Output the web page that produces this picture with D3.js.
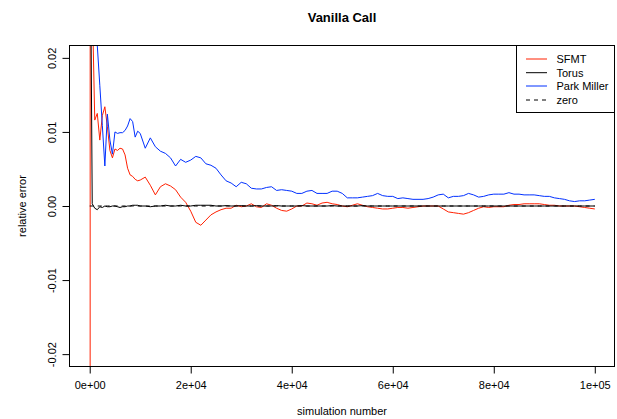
<!DOCTYPE html>
<html>
<head>
<meta charset="utf-8">
<script src="https://cdn.jsdelivr.net/npm/d3@7"></script>
<style>
  html, body { margin: 0; padding: 0; background: #fff; }
  svg { display: block; }
  text { font-family: "Liberation Sans", Arial, Helvetica, sans-serif; fill: #000; }
</style>
</head>
<body>
<svg id="chart" width="617" height="419"></svg>
<script>
const chartTitle = "Vanilla Call";
const xLabel = "simulation number";
const yLabel = "relative error";

const simulations = [1, 100, 500, 1000, 1500, 2000, 2500, 3000, 3500, 4000, 4500, 5000, 5500, 6000, 6500, 7000, 7500, 8000, 8500, 9000, 9500, 10000,
  11000, 12000, 13000, 14000, 15000, 16000, 17000, 18000, 19000, 20000,
  21000, 22000, 23000, 24000, 25000, 26000, 27000, 28000, 29000, 30000,
  31000, 32000, 33000, 34000, 35000, 36000, 37000, 38000, 39000, 40000,
  41000, 42000, 43000, 44000, 45000, 46000, 47000, 48000, 49000, 50000,
  51000, 52000, 53000, 54000, 55000, 56000, 57000, 58000, 59000, 60000,
  61000, 62000, 63000, 64000, 65000, 66000, 67000, 68000, 69000, 70000,
  71000, 72000, 73000, 74000, 75000, 76000, 77000, 78000, 79000, 80000,
  81000, 82000, 83000, 84000, 85000, 86000, 87000, 88000, 89000, 90000,
  91000, 92000, 93000, 94000, 95000, 96000, 97000, 98000, 99000, 100000];

const sfmt = [-0.5, 0.05, 0.028, 0.0116, 0.0125, 0.0089, 0.0122, 0.0134, 0.0107, 0.0075, 0.0065, 0.0077, 0.0075, 0.0078, 0.0077, 0.0069, 0.0051, 0.0042, 0.0040, 0.0036, 0.0034, 0.0035,
  0.0039, 0.0028, 0.0015, 0.0026, 0.0030, 0.0027, 0.0022, 0.0012, 0.0005, -0.0007,
  -0.0022, -0.0026, -0.0019, -0.0012, -0.0008, -0.0005, -0.0003, -0.0003, 0.0001, -0.0001,
  0.0000, 0.0003, -0.0001, -0.0002, 0.0003, 0.0001, -0.0003, -0.0006, -0.0007, -0.0004,
  0.0000, 0.0000, 0.0004, 0.0003, 0.0001, 0.0004, 0.0005, 0.0003, 0.0002, 0.0000,
  -0.0001, 0.0001, 0.0003, 0.0001, -0.0001, -0.0002, -0.0003, -0.0004, -0.0004, -0.0003,
  -0.0002, -0.0002, -0.0003, -0.0002, -0.0001, 0.0000, 0.0000, 0.0000, 0.0000, -0.0004,
  -0.0008, -0.0009, -0.0010, -0.0011, -0.0009, -0.0006, -0.0003, -0.0001, -0.0002, -0.0001,
  -0.0001, -0.0001, 0.0001, 0.0002, 0.0002, 0.0003, 0.0003, 0.0003, 0.0003, 0.0002,
  0.0001, 0.0001, 0.0000, 0.0000, 0.0000, 0.0000, -0.0001, -0.0002, -0.0003, -0.0004];

const torus = [0.5, 0.04, 0.0003, -0.0003, -0.0005, -0.0001, -0.0002, 0.0000, -0.0001, -0.0001, 0.0000, 0.0000, -0.0001, -0.0002, -0.0001, -0.0001, 0.0000, 0.0000, 0.0001, 0.0001, 0.0001, 0.0000,
  0.0000, -0.0001, 0.0000, 0.0000, 0.0001, 0.0000, 0.0000, 0.0001, 0.0000, 0.0000,
  0.0001, 0.0001, 0.0001, 0.0001, 0.0000, 0.0000, 0.00005, 0.0000, 0.0000, 0.00005,
  0.0000, 0.0000, 0.00005, 0.0000, 0.0000, 0.0000, 0.00005, 0.0000, 0.0000, 0.0000,
  0.0000, 0.00005, 0.0000, 0.0000, 0.0000, 0.0000, 0.0000, 0.00005, 0.0000, 0.0000,
  0.0000, 0.0000, 0.0000, 0.00005, 0.0000, 0.0000, 0.0000, 0.0000, 0.0000, 0.0000,
  0.0000, 0.0000, 0.0000, 0.0000, 0.0000, 0.0000, 0.0000, 0.0000, 0.0000, 0.0000,
  0.0000, 0.0000, 0.0000, 0.0000, 0.0000, 0.0000, 0.0000, 0.0000, 0.0000, 0.0000,
  0.0000, 0.0000, 0.0000, 0.0000, 0.0000, 0.0000, 0.0000, 0.0000, 0.0000, 0.0000,
  0.0000, 0.0000, 0.0000, 0.0000, 0.0000, 0.0000, 0.0000, 0.0000, 0.0000, 0.0000];

const parkMiller = [0.3, 0.1, 0.06, 0.035, 0.0217, 0.0163, 0.0109, 0.0054, 0.0124, 0.0089, 0.0070, 0.0100, 0.0098, 0.0099, 0.0099, 0.0102, 0.0108, 0.0118, 0.0114, 0.0093, 0.0101, 0.0098,
  0.0078, 0.0092, 0.0080, 0.0074, 0.0071, 0.0065, 0.0054, 0.0063, 0.0059, 0.0062,
  0.0067, 0.0065, 0.0057, 0.0055, 0.0051, 0.0042, 0.0034, 0.0031, 0.0026, 0.0032,
  0.0030, 0.0024, 0.0023, 0.0023, 0.0025, 0.0026, 0.0021, 0.0022, 0.0021, 0.0020,
  0.0017, 0.0017, 0.0020, 0.0021, 0.0017, 0.0017, 0.0017, 0.0020, 0.0020, 0.0017,
  0.0011, 0.0011, 0.0011, 0.0012, 0.0013, 0.0014, 0.0017, 0.0014, 0.0013, 0.0013,
  0.0010, 0.0011, 0.0010, 0.0009, 0.0009, 0.0009, 0.0010, 0.0012, 0.0015, 0.0016,
  0.0011, 0.0013, 0.0013, 0.0014, 0.0017, 0.0015, 0.0012, 0.0013, 0.0015, 0.0016,
  0.0016, 0.0016, 0.0018, 0.0016, 0.0016, 0.0015, 0.0015, 0.0015, 0.0014, 0.0013,
  0.0013, 0.0011, 0.0010, 0.0009, 0.0007, 0.0006, 0.0007, 0.0007, 0.0008, 0.0009];

const zero = simulations.map(() => 0);

const xTicks = [0, 20000, 40000, 60000, 80000, 100000];
const xTickLabels = ["0e+00", "2e+04", "4e+04", "6e+04", "8e+04", "1e+05"];
const yTicks = [-0.02, -0.01, 0, 0.01, 0.02];
const yTickLabels = ["-0.02", "-0.01", "0.00", "0.01", "0.02"];

const seriesNames = ["SFMT", "Torus", "Park Miller", "zero"];
const seriesColors = ["#ff2000", "#000000", "#0030ff", "#000000"];
const seriesDash = [null, null, null, "4,4"];
const seriesValues = [sfmt, torus, parkMiller, zero];

// ---- layout ----
const L = 69.5, R = 614.5, T = 45.5, B = 366.5;
const svg = d3.select("#chart");

const x = d3.scaleLinear().domain([-4000, 104000]).range([L, R + 0.5]);
const y = d3.scaleLinear().domain([-0.02167, 0.02167]).range([B, T]);

svg.append("defs").append("clipPath").attr("id", "plotclip")
  .append("rect").attr("x", L).attr("y", T).attr("width", R - L).attr("height", B - T);

const line = d3.line().x(d => x(d[0])).y(d => y(d[1]));

const g = svg.append("g").attr("clip-path", "url(#plotclip)");
seriesValues.forEach((vals, i) => {
  g.append("path")
    .datum(simulations.map((s, j) => [s, vals[j]]))
    .attr("d", line)
    .attr("fill", "none")
    .attr("stroke", seriesColors[i])
    .attr("stroke-width", 1)
    .attr("stroke-dasharray", seriesDash[i]);
});

// box
svg.append("rect").attr("x", L).attr("y", T).attr("width", R - L).attr("height", B - T)
  .attr("fill", "none").attr("stroke", "#000").attr("stroke-width", 1);

// x axis
const xAxis = d3.axisBottom(x).tickValues(xTicks).tickSize(7).tickPadding(8)
  .tickFormat((d, i) => xTickLabels[i]);
const xa = svg.append("g").attr("transform", `translate(0,${B})`).call(xAxis);
xa.select(".domain").attr("d", `M${x(0)},0H${x(100000)}`);
xa.selectAll("text").attr("font-size", 11).attr("font-family", "Liberation Sans, Arial, sans-serif").attr("fill", "#000");

// y axis
const yAxis = d3.axisLeft(y).tickValues(yTicks).tickSize(7).tickFormat((d, i) => yTickLabels[i]);
const ya = svg.append("g").attr("transform", `translate(${L},0)`).call(yAxis);
ya.select(".domain").attr("d", `M0,${y(-0.02)}V${y(0.02)}`);
ya.selectAll(".tick text").remove();
ya.selectAll(".tick").append("text")
  .attr("transform", "translate(-14,0) rotate(-90)")
  .attr("text-anchor", "middle")
  .attr("font-size", 11)
  .attr("fill", "#000")
  .text((d, i) => yTickLabels[i]);

// titles
svg.append("text").attr("x", (L + R) / 2).attr("y", 22).attr("text-anchor", "middle")
  .attr("font-size", 13).attr("font-weight", "bold").text(chartTitle);
svg.append("text").attr("x", (L + R) / 2).attr("y", 415).attr("text-anchor", "middle")
  .attr("font-size", 11).text(xLabel);
svg.append("text").attr("transform", `translate(26,${(T + B) / 2}) rotate(-90)`)
  .attr("text-anchor", "middle").attr("font-size", 11).text(yLabel);

// legend
const lg = svg.append("g");
lg.append("rect").attr("x", 516.5).attr("y", T).attr("width", R - 516.5).attr("height", 67)
  .attr("fill", "#fff").attr("stroke", "#000").attr("stroke-width", 1);
const legendY = [59, 72.7, 86, 100];
seriesNames.forEach((name, i) => {
  lg.append("line").attr("x1", 526).attr("x2", 547).attr("y1", legendY[i]).attr("y2", legendY[i])
    .attr("stroke", seriesColors[i]).attr("stroke-width", 1).attr("stroke-dasharray", seriesDash[i]);
  lg.append("text").attr("x", 556.5).attr("y", legendY[i] + 4).attr("font-size", 11).text(name);
});
</script>
</body>
</html>
